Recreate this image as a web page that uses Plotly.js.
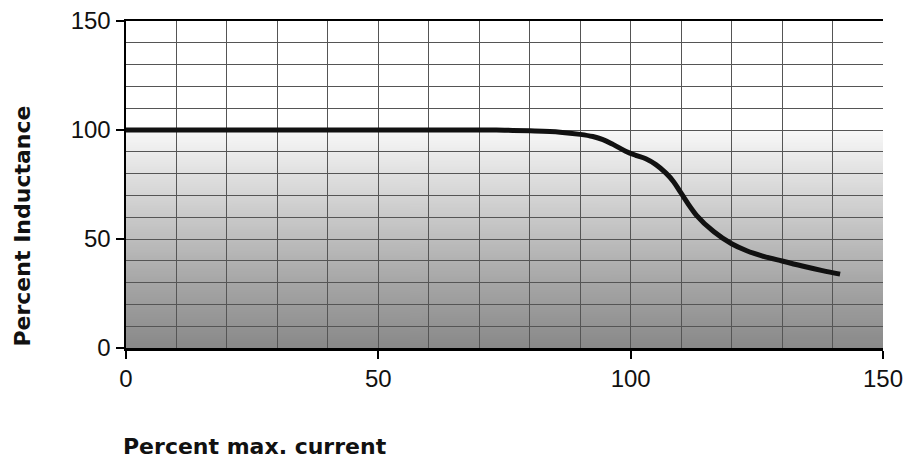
<!DOCTYPE html>
<html>
<head>
<meta charset="utf-8">
<script src="https://cdn.plot.ly/plotly-3.0.1.min.js"></script>
<style>
html,body{margin:0;padding:0;background:#fff;}
#chart{width:906px;height:460px;}
</style>
</head>
<body>
<div id="chart"></div>
<script>
// Data
const currentPct = [0, 10, 20, 30, 40, 50, 60, 70, 75, 80, 86, 90, 92.5, 94.5, 96.5, 99, 101, 103, 105, 107, 108.5, 110, 113, 116.5, 120, 123, 126, 130, 134, 138, 141.5];
const inductancePct = [100, 100, 100, 100, 100, 100, 100, 100, 99.9, 99.6, 99.0, 98.0, 97.0, 95.6, 93.4, 90.3, 88.4, 86.8, 84.1, 80.2, 76.3, 71.0, 61.0, 53.3, 47.8, 44.6, 42.3, 39.9, 37.6, 35.5, 33.9];
const majorTicks = [0, 50, 100, 150];
const xTitle = "Percent max. current";
const yTitle = "Percent Inductance";

// background gradient image (styling only)
const cv = document.createElement('canvas');
cv.width = 4; cv.height = 400;
const ctx = cv.getContext('2d');
const g = ctx.createLinearGradient(0, 0, 0, 400);
g.addColorStop(0, '#f8f8f8');
g.addColorStop(0.35, '#cfcfcf');
g.addColorStop(0.7, '#a6a6a6');
g.addColorStop(1, '#898989');
ctx.fillStyle = g;
ctx.fillRect(0, 0, 4, 400);
const gradURL = cv.toDataURL('image/png');

const tickFont = {family: 'Liberation Sans, Arial, sans-serif', size: 24, color: '#111'};
const titleFont = {family: 'DejaVu Sans, sans-serif', size: 22, color: '#111', weight: 700};

const trace = {
  x: currentPct,
  y: inductancePct,
  type: 'scatter',
  mode: 'lines',
  line: {color: '#111', width: 5, shape: 'spline', smoothing: 1},
  hoverinfo: 'skip'
};

const gridColor = '#555';

const layout = {
  width: 906, height: 460,
  margin: {l: 126, r: 23, t: 21, b: 112},
  paper_bgcolor: '#fff',
  plot_bgcolor: '#fff',
  showlegend: false,
  xaxis: {
    range: [0, 150],
    tickvals: majorTicks,
    ticks: 'outside', ticklen: 8, tickwidth: 2, tickcolor: '#000',
    showline: true, linecolor: '#000', linewidth: 2.5, mirror: true,
    showgrid: true, gridcolor: gridColor, gridwidth: 1,
    minor: {dtick: 10, tick0: 0, showgrid: true, gridcolor: gridColor, gridwidth: 1, ticks: ''},
    zeroline: false,
    tickfont: tickFont,
    ticklabelstandoff: 0,
    fixedrange: true
  },
  yaxis: {
    range: [0, 150],
    tickvals: majorTicks,
    ticks: 'outside', ticklen: 8, tickwidth: 2, tickcolor: '#000',
    showline: true, linecolor: '#000', linewidth: 2.5,
    showgrid: true, gridcolor: gridColor, gridwidth: 1,
    minor: {dtick: 10, tick0: 0, showgrid: true, gridcolor: gridColor, gridwidth: 1, ticks: ''},
    zeroline: false,
    tickfont: tickFont,
    fixedrange: true
  },
  images: [{
    source: gradURL,
    xref: 'x', yref: 'y',
    x: 0, y: 100, sizex: 150, sizey: 100,
    xanchor: 'left', yanchor: 'top',
    sizing: 'stretch', layer: 'below'
  }],
  annotations: [
    {text: xTitle, xref: 'paper', yref: 'paper', x: -0.006, y: -0.3,
     xanchor: 'left', yanchor: 'middle', showarrow: false, font: titleFont},
    {text: yTitle, xref: 'paper', yref: 'paper', x: -0.138, y: 0.373,
     xanchor: 'center', yanchor: 'middle', textangle: -90, showarrow: false, font: titleFont}
  ]
};

Plotly.newPlot('chart', [trace], layout, {displayModeBar: false, staticPlot: true});
</script>
</body>
</html>
